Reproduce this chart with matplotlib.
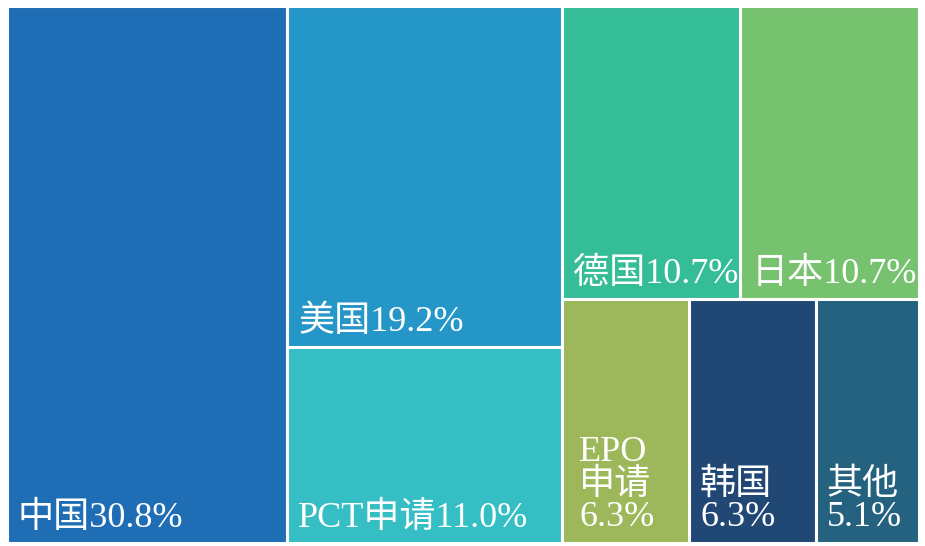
import matplotlib.pyplot as plt
from matplotlib.patches import Rectangle

plt.rcParams['font.family'] = ['Liberation Serif', 'Noto Sans CJK SC']

labels = ['中国', '美国', 'PCT申请', '德国', '日本', 'EPO\n申请', '韩国', '其他']
shares = [30.8, 19.2, 11.0, 10.7, 10.7, 6.3, 6.3, 5.1]
colors = ['#1f6db5', '#2596c8', '#35bec4', '#35bd97', '#77c26f',
          '#9db85a', '#214875', '#24627f']
# line break between name and value for the small blocks
sep = ['', '', '', '', '', '\n', '\n', '\n']

W, H = 912.0, 537.0
total = sum(shares)

# slice-and-dice layout: col1 = 中国, col2 = 美国/PCT, col3 = top row 德国/日本, bottom row rest
rects = []
x = 0.0
w1 = W * shares[0] / total
rects.append((x, 0, w1, H))
x += w1
col2 = shares[1] + shares[2]
w2 = W * col2 / total
h_us = H * shares[1] / col2
rects.append((x, H - h_us, w2, h_us))
rects.append((x, 0, w2, H - h_us))
x += w2
col3 = sum(shares[3:])
w3 = W * col3 / total
top = shares[3] + shares[4]
h_top = H * top / col3
xx = x
for s in shares[3:5]:
    ww = w3 * s / top
    rects.append((xx, H - h_top, ww, h_top))
    xx += ww
bot = sum(shares[5:])
xx = x
for s in shares[5:]:
    ww = w3 * s / bot
    rects.append((xx, 0, ww, H - h_top))
    xx += ww

fig = plt.figure(figsize=(9.25, 5.46), dpi=100)
ax = fig.add_axes([6.5 / 925, 3.5 / 546, W / 925, H / 546])
ax.set_xlim(0, W)
ax.set_ylim(0, H)
ax.axis('off')

for (rx, ry, rw, rh), lab, s, c, sp in zip(rects, labels, shares, colors, sep):
    ax.add_patch(Rectangle((rx, ry), rw, rh, facecolor=c, edgecolor='white', linewidth=2.2))
    pad = 17 if lab.startswith('EPO') else 11
    ax.text(rx + pad, ry + 8, f'{lab}{sp}{s:.1f}%', color='white', fontsize=26,
            ha='left', va='bottom', linespacing=0.98)

fig.savefig('out.png', dpi=100, facecolor='white')
